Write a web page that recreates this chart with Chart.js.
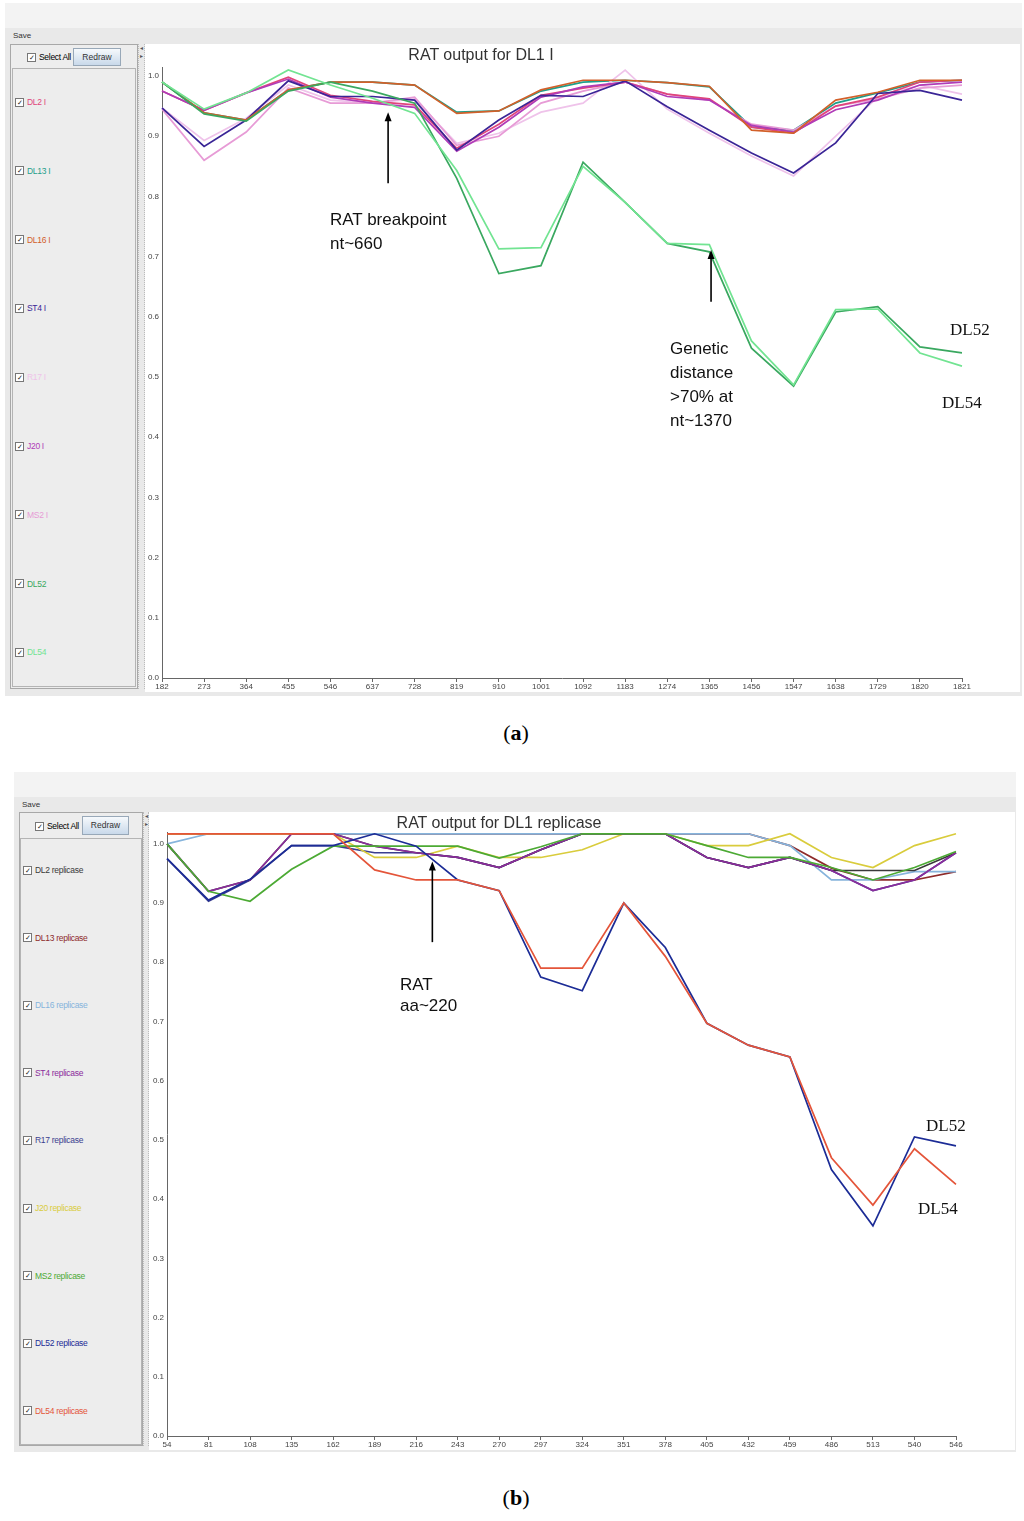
<!DOCTYPE html>
<html>
<head>
<meta charset="utf-8">
<script src="https://cdn.jsdelivr.net/npm/chart.js@4.4.1/dist/chart.umd.min.js"></script>
<style>
body { margin:0; background:#fff; width:1024px; height:1521px; position:relative; overflow:hidden; font-family:"Liberation Sans", Arial, sans-serif; }
.abs { position:absolute; }
.frame { background:#e9e9e9; }
.strip { background:#f3f3f3; }
.save { font-size:8px; color:#333; }
.side { background:#ededed; border:1px solid #a8a8a8; box-sizing:border-box; }
.list { border:1px solid #b4b4b4; box-sizing:border-box; }
.item { font-size:8.5px; letter-spacing:-0.3px; font-family:"Liberation Sans", Arial, sans-serif; white-space:nowrap; transform:translateY(-50%); display:flex; align-items:center; }
.cb { display:inline-block; width:7px; height:7px; border:1px solid #777; background:#fff; font-size:7px; line-height:7px; text-align:center; margin-right:3px; color:#222; letter-spacing:0; }
.btn { border:1px solid #98a8b8; background:linear-gradient(#f6f9fc,#c9d9ea); font-size:8.5px; color:#333; text-align:center; box-sizing:border-box; }
.split { border-left:1px dotted #bbb; border-right:1px dotted #bbb; box-sizing:border-box; font-size:6px; color:#555; text-align:center; line-height:8px; }
.plot { background:#fff; }
.title { font-size:16px; color:#333; transform:translate(-50%,-50%); white-space:nowrap; }
.note { font-size:17px; color:#111; line-height:24px; white-space:nowrap; }
.serif { font-family:"Liberation Serif","Times New Roman",serif; font-size:17px; color:#111; transform:translateY(-50%); }
.cap { font-family:"Liberation Serif","Times New Roman",serif; font-size:22px; transform:translate(-50%,-50%); }
</style>
</head>
<body>

<!-- panel a -->
<div class="abs frame" style="left:5px;top:3px;width:1017px;height:693px"></div>
<div class="abs strip" style="left:5px;top:3px;width:1017px;height:25px"></div>
<div class="abs save" style="left:13px;top:31px">Save</div>
<div class="abs side" style="left:10px;top:44px;width:128px;height:645px"></div>
<div class="abs item" style="left:27px;top:57px"><span class="cb">✓</span>Select All</div>
<div class="abs btn" style="left:73px;top:48px;width:48px;height:18px;line-height:16px">Redraw</div>
<div class="abs list" style="left:12px;top:68px;width:124px;height:619px" id="listA"></div>
<div class="abs split" style="left:138px;top:44px;width:7px;height:645px">◂<br>▸</div>
<div class="abs plot" style="left:145px;top:44px;width:875px;height:648px">
  <canvas id="chartA" width="875" height="648"></canvas>
</div>
<div class="abs title" style="left:481px;top:55px">RAT output for DL1 I</div>
<div class="abs note" style="left:330px;top:208px">RAT breakpoint<br>nt~660</div>
<div class="abs note" style="left:670px;top:337px">Genetic<br>distance<br>&gt;70% at<br>nt~1370</div>
<div class="abs serif" style="left:950px;top:330px">DL52</div>
<div class="abs serif" style="left:942px;top:403px">DL54</div>
<div class="abs cap" style="left:516px;top:733px">(<b>a</b>)</div>

<!-- panel b -->
<div class="abs frame" style="left:14px;top:772px;width:1002px;height:680px"></div>
<div class="abs strip" style="left:14px;top:772px;width:1002px;height:25px"></div>
<div class="abs save" style="left:22px;top:800px">Save</div>
<div class="abs side" style="left:19px;top:812px;width:124px;height:634px"></div>
<div class="abs item" style="left:35px;top:826px"><span class="cb">✓</span>Select All</div>
<div class="abs btn" style="left:82px;top:816px;width:47px;height:19px;line-height:17px">Redraw</div>
<div class="abs list" style="left:20px;top:838px;width:122px;height:607px" id="listB"></div>
<div class="abs split" style="left:143px;top:812px;width:6px;height:634px">◂<br>▸</div>
<div class="abs plot" style="left:149px;top:812px;width:866px;height:638px">
  <canvas id="chartB" width="866" height="638"></canvas>
</div>
<div class="abs title" style="left:499px;top:823px">RAT output for DL1 replicase</div>
<div class="abs note" style="left:400px;top:974px;line-height:21px">RAT<br>aa~220</div>
<div class="abs serif" style="left:926px;top:1126px">DL52</div>
<div class="abs serif" style="left:918px;top:1209px">DL54</div>
<div class="abs cap" style="left:516px;top:1498px">(<b>b</b>)</div>

<script>
// panel (a) - nucleotide positions
const positionsA = ['182', '273', '364', '455', '546', '637', '728', '819', '910', '1001', '1092', '1183', '1274', '1365', '1456', '1547', '1638', '1729', '1820', '1821'];
const namesA = ['DL2 I', 'DL13 I', 'DL16 I', 'ST4 I', 'R17 I', 'J20 I', 'MS2 I', 'DL52', 'DL54'];
const dl2A  = [0.975, 0.943, 0.972, 0.998, 0.968, 0.958, 0.952, 0.880, 0.920, 0.968, 0.980, 0.990, 0.970, 0.962, 0.915, 0.905, 0.950, 0.965, 0.990, 0.993];
const dl13A = [0.990, 0.939, 0.927, 0.977, 0.990, 0.990, 0.985, 0.940, 0.942, 0.975, 0.990, 0.993, 0.989, 0.982, 0.915, 0.910, 0.955, 0.972, 0.990, 0.993];
const dl16A = [0.990, 0.939, 0.927, 0.977, 0.990, 0.990, 0.985, 0.938, 0.942, 0.977, 0.993, 0.993, 0.989, 0.983, 0.910, 0.905, 0.960, 0.973, 0.993, 0.993];
const st4A  = [0.947, 0.883, 0.927, 0.992, 0.966, 0.966, 0.960, 0.877, 0.927, 0.968, 0.966, 0.992, 0.949, 0.910, 0.872, 0.839, 0.889, 0.971, 0.976, 0.960];
const r17A  = [0.947, 0.893, 0.930, 0.985, 0.960, 0.955, 0.962, 0.888, 0.905, 0.940, 0.955, 1.010, 0.945, 0.905, 0.867, 0.834, 0.900, 0.965, 0.985, 0.970];
const j20A  = [0.975, 0.943, 0.972, 0.995, 0.965, 0.955, 0.948, 0.875, 0.915, 0.965, 0.982, 0.990, 0.966, 0.960, 0.918, 0.907, 0.944, 0.960, 0.985, 0.990];
const ms2A  = [0.945, 0.860, 0.907, 0.980, 0.955, 0.955, 0.965, 0.885, 0.900, 0.955, 0.975, 0.990, 0.970, 0.960, 0.920, 0.910, 0.950, 0.962, 0.980, 0.985];
const dl52A = [0.990, 0.937, 0.925, 0.975, 0.990, 0.975, 0.955, 0.830, 0.672, 0.685, 0.857, 0.790, 0.722, 0.708, 0.548, 0.485, 0.608, 0.617, 0.550, 0.540];
const dl54A = [0.990, 0.945, 0.972, 1.010, 0.985, 0.963, 0.938, 0.843, 0.713, 0.715, 0.850, 0.790, 0.722, 0.720, 0.560, 0.487, 0.612, 0.613, 0.540, 0.518];

// panel (b) - amino acid positions
const positionsB = ['54', '81', '108', '135', '162', '189', '216', '243', '270', '297', '324', '351', '378', '405', '432', '459', '486', '513', '540', '546'];
const namesB = ['DL2 replicase', 'DL13 replicase', 'DL16 replicase', 'ST4 replicase', 'R17 replicase', 'J20 replicase', 'MS2 replicase', 'DL52 replicase', 'DL54 replicase'];
const dl2B  = [1.000, 0.920, 0.939, 1.017, 1.017, 0.996, 0.985, 0.977, 0.960, 0.990, 1.017, 1.017, 1.017, 0.977, 0.960, 0.977, 0.955, 0.955, 0.955, 0.985];
const dl13B = [1.017, 1.017, 1.017, 1.017, 1.017, 1.017, 1.017, 1.017, 1.017, 1.017, 1.017, 1.017, 1.017, 1.017, 1.017, 0.997, 0.959, 0.939, 0.939, 0.953];
const dl16B = [1.000, 1.017, 1.017, 1.017, 1.017, 1.017, 1.017, 1.017, 1.017, 1.017, 1.017, 1.017, 1.017, 1.017, 1.017, 0.997, 0.939, 0.939, 0.953, 0.953];
const st4B  = [1.000, 0.920, 0.939, 1.017, 1.017, 0.996, 0.985, 0.977, 0.960, 0.990, 1.017, 1.017, 1.017, 0.977, 0.960, 0.977, 0.955, 0.921, 0.939, 0.985];
const r17B  = [0.975, 0.903, 0.939, 0.997, 0.997, 0.985, 0.985, 0.977, 0.960, 0.990, 1.017, 1.017, 1.017, 0.977, 0.960, 0.977, 0.955, 0.921, 0.939, 0.985];
const j20B  = [1.017, 1.017, 1.017, 1.017, 1.017, 0.977, 0.977, 0.996, 0.977, 0.977, 0.990, 1.017, 1.017, 0.997, 0.997, 1.017, 0.977, 0.960, 0.997, 1.017];
const ms2B  = [1.000, 0.920, 0.903, 0.957, 0.996, 0.996, 0.996, 0.996, 0.976, 0.995, 1.017, 1.017, 1.017, 0.997, 0.977, 0.977, 0.960, 0.939, 0.960, 0.987];
const dl52B = [0.975, 0.905, 0.940, 0.997, 0.997, 1.017, 0.996, 0.939, 0.921, 0.775, 0.752, 0.900, 0.825, 0.697, 0.660, 0.640, 0.450, 0.355, 0.505, 0.490];
const dl54B = [1.017, 1.017, 1.017, 1.017, 1.017, 0.956, 0.939, 0.939, 0.921, 0.790, 0.790, 0.900, 0.810, 0.697, 0.660, 0.640, 0.470, 0.390, 0.485, 0.425];

const colorsA = ['#e0457b', '#1e9e8a', '#d2602a', '#3a2596', '#efc3ea', '#b03cb8', '#e79bd6', '#3aa860', '#72e492'];
const colorsB = ['#3a3a3a', '#8e2b2b', '#86b4dc', '#8b2c9c', '#3b3f8f', '#d9cc3c', '#4caa34', '#1c2c96', '#e4553a'];

// custom legend on the left, like the java tool
function fillList(id, names, colors, first, step) {
    const list = document.getElementById(id);
    const box = list.getBoundingClientRect();
    names.forEach((n, i) => {
        const d = document.createElement('div');
        d.className = 'abs item';
        d.style.left = '2px';
        d.style.top = (first + step * i - box.top - 1) + 'px';
        d.style.color = colors[i];
        d.innerHTML = '<span class="cb">✓</span>' + n;
        list.appendChild(d);
    });
}
fillList('listA', namesA, colorsA, 102, 68.8);
fillList('listB', namesB, colorsB, 870, 67.6);

const arrows = {
    id: 'arrows',
    afterDatasetsDraw(chart, args, opts) {
        const ctx = chart.ctx;
        const x = chart.scales.x;
        const y = chart.scales.y;
        (opts.list || []).forEach(a => {
            const px = x.getPixelForValue(a.at);
            const y0 = y.getPixelForValue(a.from);
            const y1 = y.getPixelForValue(a.to);
            ctx.save();
            ctx.strokeStyle = '#000';
            ctx.fillStyle = '#000';
            ctx.lineWidth = 1.6;
            ctx.beginPath();
            ctx.moveTo(px, y0);
            ctx.lineTo(px, y1 + 5);
            ctx.stroke();
            ctx.beginPath();
            ctx.moveTo(px, y1);
            ctx.lineTo(px - 3.5, y1 + 9);
            ctx.lineTo(px + 3.5, y1 + 9);
            ctx.closePath();
            ctx.fill();
            ctx.restore();
        });
    }
};

const tickFont = { family: '"Liberation Sans", Arial, sans-serif', size: 8 };

function lines(values, colors, order) {
    return values.map((v, i) => ({
        data: v,
        borderColor: colors[i],
        backgroundColor: colors[i],
        borderWidth: 1.7,
        pointRadius: 0,
        tension: 0,
        fill: false,
        order: order[i]
    }));
}

new Chart(document.getElementById('chartA'), {
    type: 'line',
    data: {
        labels: positionsA,
        datasets: lines([dl2A, dl13A, dl16A, st4A, r17A, j20A, ms2A, dl52A, dl54A], colorsA, [5, 8, 2, 3, 7, 4, 6, 1, 0])
    },
    options: {
        responsive: false,
        animation: false,
        layout: { padding: { left: 0, right: 58, top: 23, bottom: 0 } },
        scales: {
            x: {
                offset: false,
                grid: { display: true, drawOnChartArea: false, tickLength: 4, color: '#666' },
                border: { color: '#666' },
                ticks: { autoSkip: false, maxRotation: 0, minRotation: 0, padding: 0, color: '#444', font: tickFont },
                afterFit(scale) { scale.height = 14; }
            },
            y: {
                min: 0,
                max: 1.015,
                grid: { display: false, drawTicks: false },
                border: { color: '#666' },
                ticks: { stepSize: 0.1, includeBounds: false, padding: 3, color: '#444', font: tickFont, callback: v => v.toFixed(1) },
                afterFit(scale) { scale.width = 17; }
            }
        },
        plugins: {
            legend: { display: false },
            tooltip: { enabled: false },
            arrows: { list: [{ at: 5.37, from: 0.822, to: 0.94 }, { at: 13.04, from: 0.625, to: 0.711 }] }
        }
    },
    plugins: [arrows]
});

new Chart(document.getElementById('chartB'), {
    type: 'line',
    data: {
        labels: positionsB,
        datasets: lines([dl2B, dl13B, dl16B, st4B, r17B, j20B, ms2B, dl52B, dl54B], colorsB, [4, 7, 6, 3, 8, 5, 2, 1, 0])
    },
    options: {
        responsive: false,
        animation: false,
        layout: { padding: { left: 0, right: 59, top: 20, bottom: 0 } },
        scales: {
            x: {
                offset: false,
                grid: { display: true, drawOnChartArea: false, tickLength: 4, color: '#666' },
                border: { color: '#666' },
                ticks: { autoSkip: false, maxRotation: 0, minRotation: 0, padding: 0, color: '#444', font: tickFont },
                afterFit(scale) { scale.height = 14; }
            },
            y: {
                min: 0,
                max: 1.02,
                grid: { display: false, drawTicks: false },
                border: { color: '#666' },
                ticks: { stepSize: 0.1, includeBounds: false, padding: 3, color: '#444', font: tickFont, callback: v => v.toFixed(1) },
                afterFit(scale) { scale.width = 18; }
            }
        },
        plugins: {
            legend: { display: false },
            tooltip: { enabled: false },
            arrows: { list: [{ at: 6.39, from: 0.834, to: 0.97 }] }
        }
    },
    plugins: [arrows]
});
</script>
</body>
</html>
